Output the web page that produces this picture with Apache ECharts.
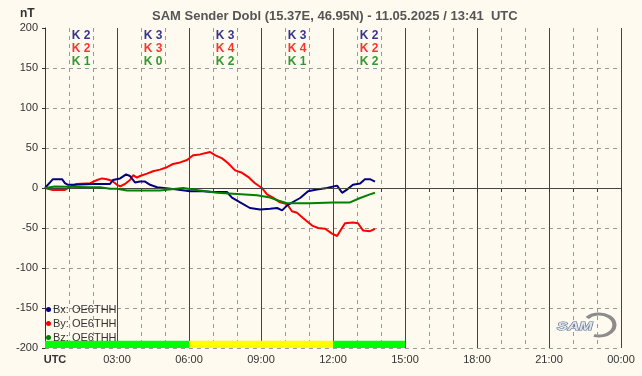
<!DOCTYPE html>
<html>
<head>
<meta charset="utf-8">
<script src="https://cdn.jsdelivr.net/npm/echarts@6/dist/echarts.min.js"></script>
<style>
html, body { margin: 0; padding: 0; background: #fffaef; }
#main { width: 642px; height: 376px; }
</style>
</head>
<body>
<div id="main"></div>
<script>
// time in hours UTC, values in nT
var bxTime = [0, 0.21, 0.33, 0.71, 0.83, 0.96, 1.17, 1.25, 2.0, 2.71, 2.83, 3.13, 3.38, 3.54, 3.75, 3.96, 4.17, 4.38, 4.67, 5.5, 6.04, 6.58, 7.0, 7.58, 7.79, 8.13, 8.54, 8.96, 9.38, 9.67, 9.88, 10.08, 10.33, 10.63, 10.96, 11.33, 11.75, 12.17, 12.38, 12.58, 12.83, 13.13, 13.33, 13.54, 13.75];
var bxVals = [0, 7, 11, 11, 6, 4, 4, 2, 5, 5, 10, 12, 17, 15, 7, 8, 8, 4, 1, -2, -4, -4, -5, -5, -12, -18, -25, -27, -26, -25, -28, -22, -17.5, -12.5, -4, -2, 0, 3, -6, -2, 4, 5.5, 11, 11, 8];

var byTime = [0, 0.33, 0.83, 0.96, 1.13, 1.33, 1.88, 2.17, 2.38, 2.58, 2.79, 3.0, 3.13, 3.33, 3.54, 3.67, 3.83, 3.96, 4.25, 4.5, 4.79, 5.08, 5.33, 5.63, 5.92, 6.17, 6.46, 6.75, 6.88, 7.08, 7.38, 7.63, 7.92, 8.21, 8.46, 8.75, 9.04, 9.25, 9.5, 9.79, 10.08, 10.29, 10.5, 10.75, 11.13, 11.38, 11.67, 11.96, 12.17, 12.29, 12.5, 12.83, 13.04, 13.25, 13.54, 13.75];
var byVals = [0, -2.5, -2.5, 0, 3, 5, 6, 10, 12, 11, 9, 4, 2, 5, 10, 16, 13, 15, 18, 21, 23, 26, 30, 32, 35, 41, 42, 44, 45, 41, 37, 31, 22, 19, 14, 6, 0, -8, -12, -18, -20, -29, -31, -37.5, -47, -50, -51, -57, -60, -54, -44, -43, -44, -53, -54, -51];

var bzTime = [0, 0.42, 1.88, 2.29, 2.71, 3.0, 3.42, 4.79, 5.75, 6.46, 7.17, 8.0, 8.83, 9.38, 9.75, 10.08, 11.04, 12.0, 12.71, 13.13, 13.54, 13.75];
var bzVals = [0, 2, 1, 1, -1, -1, -3, -3, 0, -3, -6, -7.5, -9, -12, -16, -19, -19, -18, -18, -12.5, -8, -6];

var seriesNames = ['Bx: OE6THH', 'By: OE6THH', 'Bz: OE6THH'];
var seriesColors = ['#000080', '#ff0000', '#008000'];

// K indices per 3-hour block
var kCenters = [1.5, 4.5, 7.5, 10.5, 13.5];
var kBx = [2, 3, 3, 3, 2];
var kBy = [2, 3, 4, 4, 2];
var kBz = [1, 0, 2, 1, 2];

// status band under the plot
var bandStart = [0, 6, 12];
var bandEnd = [6, 12, 15];
var bandColors = ['#00ff00', '#ffff00', '#00ff00'];

var xLabels = ['UTC', '03:00', '06:00', '09:00', '12:00', '15:00', '18:00', '21:00', '00:00'];

function pairs(t, v) {
	var out = [];
	for (var i = 0; i < t.length; i++) out.push([t[i], v[i]]);
	return out;
}

function kSeries(name, ks, yPos, color) {
	return {
		name: name,
		type: 'scatter',
		symbolSize: 1,
		itemStyle: { color: 'rgba(0,0,0,0)' },
		silent: true,
		data: kCenters.map(function(c, i) { return [c, yPos, ks[i]]; }),
		label: {
			show: true,
			position: 'inside',
			formatter: function(p) { return 'K ' + p.data[2]; },
			color: color,
			fontSize: 12,
			fontWeight: 'bold',
			fontFamily: 'Liberation Sans'
		}
	};
}

var bandData = [];
for (var b = 0; b < bandStart.length; b++) {
	bandData.push([
		{ xAxis: bandStart[b], yAxis: -200, itemStyle: { color: bandColors[b] } },
		{ xAxis: bandEnd[b], yAxis: -191 }
	]);
}

var myChart = echarts.init(document.getElementById('main'));

var option = {
	animation: false,
	backgroundColor: '#fffaef',
	textStyle: { fontFamily: 'Liberation Sans' },
	title: {
		text: 'SAM Sender Dobl (15.37E, 46.95N) - 11.05.2025 / 13:41  UTC',
		left: 147,
		top: 5,
		textStyle: { fontSize: 13, fontWeight: 'bold', color: '#555', fontFamily: 'Liberation Sans' }
	},
	legend: {
		orient: 'vertical',
		left: 46,
		top: 304,
		padding: 0,
		itemGap: 3,
		itemWidth: 5,
		itemHeight: 5,
		icon: 'circle',
		data: seriesNames,
		textStyle: { fontSize: 11, color: '#333', padding: [0, 0, 0, -3] }
	},
	grid: { left: 45, right: 21, top: 28, bottom: 28 },
	xAxis: {
		type: 'value',
		min: 0,
		max: 24,
		interval: 3,
		axisLine: { lineStyle: { color: '#333' } },
		axisTick: { show: true, inside: false, length: 4, lineStyle: { color: '#333' } },
		minorTick: { show: true, splitNumber: 3, length: 4, lineStyle: { color: '#333' } },
		splitLine: { show: true, lineStyle: { color: '#444', width: 1 } },
		minorSplitLine: { show: true, lineStyle: { color: '#999', type: [4, 4] } },
		axisLabel: {
			color: '#333',
			fontSize: 11,
			margin: 6,
			showMaxLabel: true,
			formatter: function(v) {
				var s = xLabels[Math.round(v / 3)];
				return v === 0 ? '{b|' + s + '}' : s;
			},
			rich: { b: { fontWeight: 'bold', fontSize: 11, color: '#333', padding: [0, 0, 0, 20] } }
		}
	},
	yAxis: {
		type: 'value',
		min: -200,
		max: 200,
		interval: 50,
		axisLine: { show: true, lineStyle: { color: '#333' } },
		axisTick: { show: true, length: 3, lineStyle: { color: '#333' } },
		splitLine: { show: true, showMaxLine: false, lineStyle: { color: '#999', type: [4, 4] } },
		axisLabel: { color: '#333', fontSize: 11, margin: 7 }
	},
	graphic: [
		{
			type: 'text',
			left: 20,
			top: 8,
			style: { text: 'nT', fontSize: 12, fontWeight: 'bold', fill: '#333', fontFamily: 'Liberation Sans' }
		},
		{
			type: 'arc',
			x: 599,
			y: 325,
			scaleX: 1.4,
			shape: { cx: 0, cy: 0, r: 11, startAngle: -2.45, endAngle: 1.9 },
			style: { stroke: '#8c8c8c', lineWidth: 3, fill: null }
		},
		{
			type: 'text',
			x: 557,
			y: 321,
			scaleX: 1.45,
			style: {
				text: 'SAM',
				fontSize: 11,
				fontStyle: 'italic',
				fontWeight: 'bold',
				fill: '#dfe6ee',
				stroke: '#5a6e8c',
				lineWidth: 1,
				fontFamily: 'Liberation Sans'
			}
		}
	],
	series: [
		{
			name: seriesNames[0],
			type: 'line',
			data: pairs(bxTime, bxVals),
			showSymbol: false,
			color: seriesColors[0],
			lineStyle: { width: 2 },
			z: 4,
			markLine: {
				silent: true,
				symbol: 'none',
				label: { show: false },
				lineStyle: { color: '#444', type: 'solid', width: 1 },
				data: [{ yAxis: 0 }]
			},
			markArea: { silent: true, data: bandData }
		},
		{
			name: seriesNames[1],
			type: 'line',
			data: pairs(byTime, byVals),
			showSymbol: false,
			color: seriesColors[1],
			lineStyle: { width: 2 },
			z: 3
		},
		{
			name: seriesNames[2],
			type: 'line',
			data: pairs(bzTime, bzVals),
			showSymbol: false,
			color: seriesColors[2],
			lineStyle: { width: 2 },
			z: 5
		},
		kSeries('kx', kBx, 190, seriesColors[0]),
		kSeries('ky', kBy, 174, seriesColors[1]),
		kSeries('kz', kBz, 157.5, seriesColors[2])
	]
};

myChart.setOption(option);
</script>
</body>
</html>
